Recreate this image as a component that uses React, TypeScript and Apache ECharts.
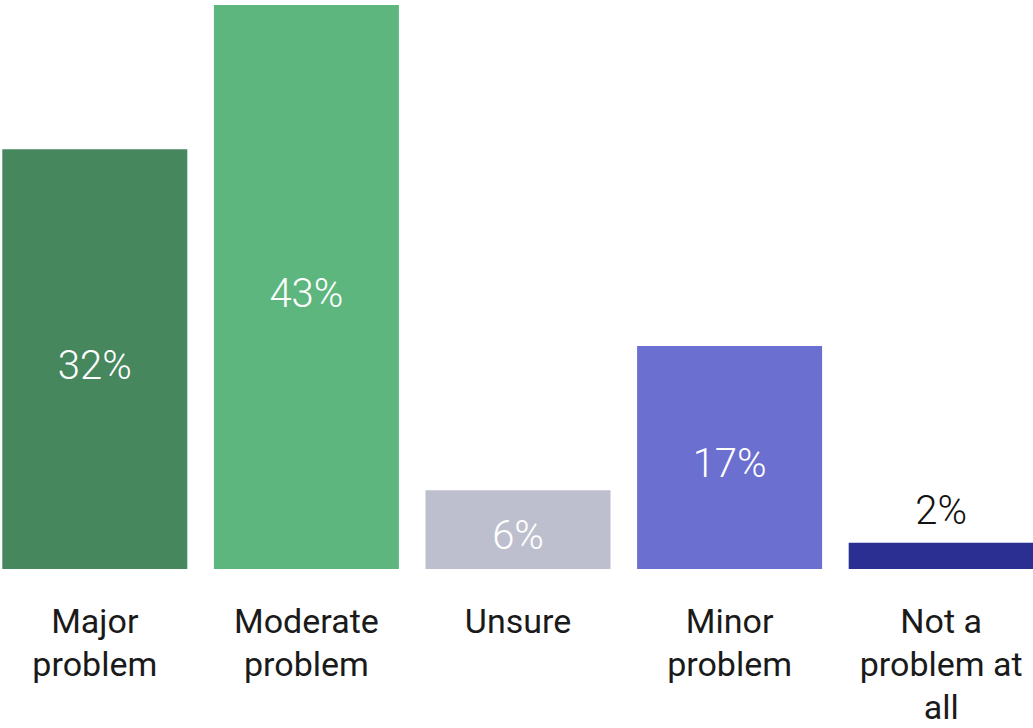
import React, { useEffect, useRef } from "react";
import * as echarts from "echarts";

const categories = ["Major\nproblem", "Moderate\nproblem", "Unsure", "Minor\nproblem", "Not a\nproblem at\nall"];
const values = [32, 43, 6, 17, 2];
const colors = ["#46875E", "#5DB67E", "#BEBFCE", "#6B6FD0", "#2B2F91"];
const insideLabel = [true, true, true, true, false];

export default function App() {
  const ref = useRef<HTMLDivElement>(null);
  useEffect(() => {
    if (!ref.current) return;
    const chart = echarts.init(ref.current, undefined, { renderer: "svg" });
    chart.setOption({
      animation: false,
      grid: { left: 0, right: 0, top: 5, bottom: 158, containLabel: false },
      xAxis: {
        type: "category",
        data: categories,
        axisLine: { show: false },
        axisTick: { show: false },
        axisLabel: {
          interval: 0,
          margin: 30,
          fontFamily: "Roboto",
          fontSize: 34,
          lineHeight: 43,
          color: "#1a1a1a",
        },
      },
      yAxis: { type: "value", min: 0, max: 43, show: false, splitLine: { show: false } },
      series: [
        {
          type: "bar",
          barWidth: 185,
          data: values.map((v, i) => ({
            value: v,
            itemStyle: { color: colors[i] },
            label: {
              show: true,
              position: insideLabel[i] ? "inside" : "top",
              distance: 12,
              offset: insideLabel[i] ? [0, 6] : [0, 0],
              color: insideLabel[i] ? "#ffffff" : "#111111",
              fontFamily: "Roboto",
              fontWeight: 300,
              fontSize: 40,
              formatter: "{c}%",
            },
          })),
        },
      ],
    });
    return () => chart.dispose();
  }, []);
  return (
    <div
      ref={ref}
      style={{ position: "absolute", left: -11, top: 0, width: 1058, height: 728 }}
    />
  );
}
